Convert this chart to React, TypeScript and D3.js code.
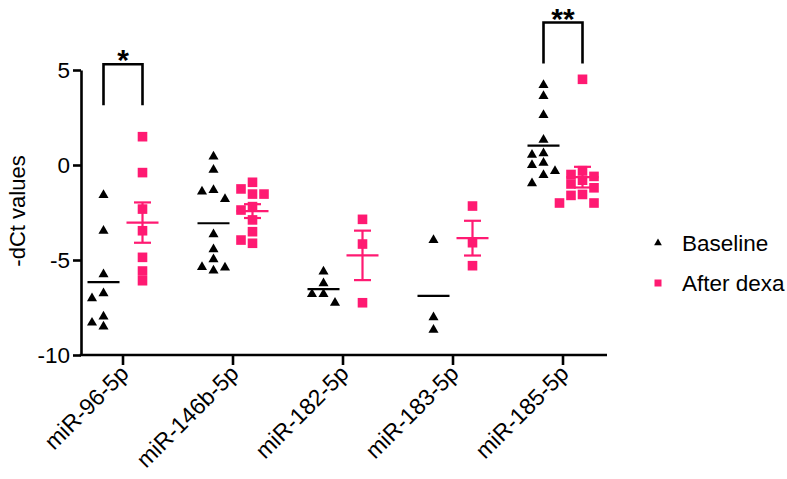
import React, { useEffect, useRef } from "react";
import * as d3 from "d3";

const categories = ["miR-96-5p", "miR-146b-5p", "miR-182-5p", "miR-183-5p", "miR-185-5p"];

const baselineValues = [
  [-1.58, -3.46, -5.75, -6.75, -7.02, -7.98, -8.3, -8.51],
  [0.44, -0.26, -1.32, -1.4, -1.79, -3.65, -4.44, -4.96, -5.37, -5.4, -5.56],
  [-5.61, -6.23, -6.79, -6.79, -7.25],
  [-3.95, -8.02, -8.68],
  [4.21, 3.63, 2.63, 1.32, 0.61, 0.53, 0.12, 0, -0.32, -0.53, -0.96],
];

const afterDexaValues = [
  [1.49, -0.4, -2.32, -3.46, -4.86, -5.58, -6.09],
  [-0.91, -1.26, -1.53, -1.53, -2.19, -2.37, -2.89, -3.51, -3.95, -4.12],
  [-2.86, -4.16, -7.25],
  [-2.16, -4.09, -5.3],
  [4.51, -0.3, -0.5, -0.6, -0.8, -1.0, -1.2, -1.55, -1.6, -2.0, -2.0],
];

const yTicks = [5, 0, -5, -10];
const seriesNames = ["Baseline", "After dexa"];

// significance brackets: top of bracket in data units
const comparisons = [
  { category: "miR-96-5p", label: "*", top: 5.3 },
  { category: "miR-185-5p", label: "**", top: 7.5 },
];

const PINK = "#ff1a72";
const FONT = "'Liberation Sans', Arial, Helvetica, sans-serif";

function swarm(values: number[], y: (v: number) => number, step: number) {
  const order = values.map((_, i) => i).sort((a, b) => values[b] - values[a]);
  const placed: { x: number; y: number }[] = [];
  const offsets = new Array(values.length).fill(0);
  order.forEach((i) => {
    const py = y(values[i]);
    for (const c of [0, -1, 1, -2, 2, -3, 3]) {
      const px = c * step;
      const hit = placed.some((p) => Math.abs(p.x - px) < step * 0.9 && Math.abs(p.y - py) < step * 0.8);
      if (!hit) {
        offsets[i] = px;
        placed.push({ x: px, y: py });
        break;
      }
    }
  });
  return offsets;
}

function Chart() {
  const ref = useRef<SVGSVGElement>(null);

  useEffect(() => {
    const svg = d3.select(ref.current);
    svg.selectAll("*").remove();

    const y = d3.scaleLinear().domain([-10, 5]).range([355, 70]);
    const x = d3.scaleBand().domain(categories).range([68, 618]);
    const axisX = 81;
    const half = 19.5;
    const step = 11.5;

    // y axis
    const gy = svg
      .append("g")
      .attr("transform", `translate(${axisX},0)`)
      .call(d3.axisLeft(y).tickValues(yTicks).tickSize(8).tickSizeOuter(0).tickPadding(3));
    gy.select(".domain").attr("stroke", "#000").attr("stroke-width", 2.6);
    gy.selectAll(".tick line").attr("stroke", "#000").attr("stroke-width", 2.6);
    gy.selectAll(".tick text")
      .attr("font-family", FONT)
      .attr("font-size", 22.5)
      .attr("fill", "#000")
      .text((d: any) => (d < 0 ? "-" + Math.abs(d) : String(d)));

    svg
      .append("text")
      .attr("transform", `translate(25,211) rotate(-90)`)
      .attr("text-anchor", "middle")
      .attr("font-family", FONT)
      .attr("font-size", 22)
      .text("-dCt values");

    // x axis
    const gx = svg
      .append("g")
      .attr("transform", `translate(0,${y(-10)})`)
      .call(d3.axisBottom(x).tickSize(10).tickSizeOuter(0));
    gx.select(".domain").remove();
    gx.selectAll(".tick line").attr("stroke", "#000").attr("stroke-width", 2.6);
    gx.selectAll(".tick text").remove();
    gx.append("line")
      .attr("x1", axisX - 1.3)
      .attr("x2", 607)
      .attr("stroke", "#000")
      .attr("stroke-width", 2.6);

    svg
      .append("g")
      .selectAll("text")
      .data(categories)
      .enter()
      .append("text")
      .attr("transform", (d) => `translate(${x(d)! + x.bandwidth() / 2 + 7},375) rotate(-45)`)
      .attr("text-anchor", "end")
      .attr("font-family", FONT)
      .attr("font-size", 23)
      .text((d) => d);

    const tri = d3.symbol().type(d3.symbolTriangle).size(44);

    categories.forEach((cat, ci) => {
      const cx = x(cat)! + x.bandwidth() / 2;
      const bx = cx - half;
      const ax = cx + half;

      const bv = baselineValues[ci];
      const bOff = swarm(bv, y, step);
      svg
        .append("g")
        .selectAll("path")
        .data(bv)
        .enter()
        .append("path")
        .attr("d", tri()!)
        .attr("transform", (d, i) => `translate(${bx + bOff[i]},${y(d)})`)
        .attr("fill", "#000");

      const bMean = d3.mean(bv)!;
      svg
        .append("line")
        .attr("x1", bx - 16)
        .attr("x2", bx + 16)
        .attr("y1", y(bMean))
        .attr("y2", y(bMean))
        .attr("stroke", "#000")
        .attr("stroke-width", 2.2);

      const av = afterDexaValues[ci];
      const aOff = swarm(av, y, step);
      svg
        .append("g")
        .selectAll("rect")
        .data(av)
        .enter()
        .append("rect")
        .attr("x", (d, i) => ax + aOff[i] - 4.8)
        .attr("y", (d) => y(d) - 4.8)
        .attr("width", 9.6)
        .attr("height", 9.6)
        .attr("fill", PINK);

      const aMean = d3.mean(av)!;
      const sem = d3.deviation(av)! / Math.sqrt(av.length);
      const g = svg.append("g").attr("stroke", PINK).attr("stroke-width", 2.2);
      g.append("line")
        .attr("x1", ax - 16)
        .attr("x2", ax + 16)
        .attr("y1", y(aMean))
        .attr("y2", y(aMean));
      g.append("line")
        .attr("x1", ax)
        .attr("x2", ax)
        .attr("y1", y(aMean + sem))
        .attr("y2", y(aMean - sem));
      [aMean + sem, aMean - sem].forEach((v) => {
        g.append("line")
          .attr("x1", ax - 8.5)
          .attr("x2", ax + 8.5)
          .attr("y1", y(v))
          .attr("y2", y(v));
      });
    });

    // significance brackets
    comparisons.forEach((c) => {
      const cx = x(c.category)! + x.bandwidth() / 2;
      const top = y(c.top);
      svg
        .append("path")
        .attr("d", `M${cx - half},${top + 41}V${top}H${cx + half}V${top + 41}`)
        .attr("fill", "none")
        .attr("stroke", "#000")
        .attr("stroke-width", 2.6);
      svg
        .append("text")
        .attr("x", cx)
        .attr("y", top + 6)
        .attr("text-anchor", "middle")
        .attr("font-family", FONT)
        .attr("font-weight", "bold")
        .attr("font-size", 30)
        .text(c.label);
    });

    // legend
    const legend = svg
      .append("g")
      .selectAll("g")
      .data(seriesNames)
      .enter()
      .append("g")
      .attr("transform", (d, i) => `translate(658,${243 + i * 40})`);
    legend
      .filter((d, i) => i === 0)
      .append("path")
      .attr("d", d3.symbol().type(d3.symbolTriangle).size(26)()!)
      .attr("fill", "#000");
    legend
      .filter((d, i) => i === 1)
      .append("rect")
      .attr("x", -3.5)
      .attr("y", -3.5)
      .attr("width", 7)
      .attr("height", 7)
      .attr("fill", PINK);
    legend
      .append("text")
      .attr("x", 24)
      .attr("y", 8)
      .attr("font-family", FONT)
      .attr("font-size", 22.5)
      .text((d) => d);
  }, []);

  return (
    <svg
      ref={ref}
      width={787}
      height={479}
      style={{ position: "absolute", left: 0, top: 0, background: "#fff" }}
    />
  );
}

export default function App() {
  return <Chart />;
}
